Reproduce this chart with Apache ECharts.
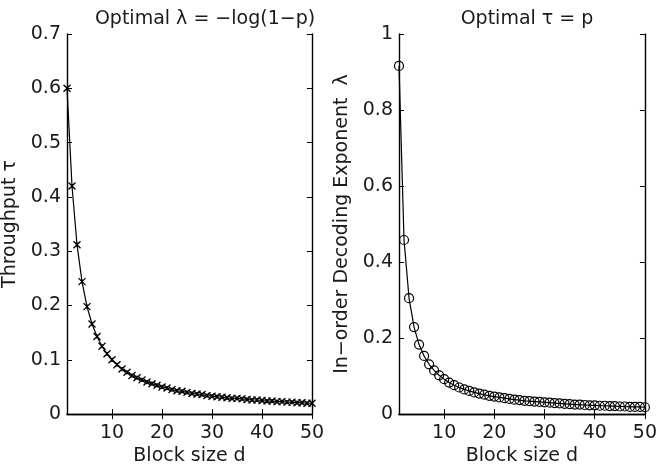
<!DOCTYPE html>
<html>
<head>
<meta charset="utf-8">
<script src="https://cdn.jsdelivr.net/npm/echarts@6/dist/echarts.min.js"></script>
<style>html,body{margin:0;padding:0;background:#fff}#c{width:660px;height:471px}</style>
</head>
<body>
<div id="c"></div>
<script>
var blockSize = [];
for (var i = 1; i <= 50; i++) blockSize.push(i);

var throughput = [0.600,0.420,0.312,0.244,0.198,0.166,0.143,0.125,0.111,0.100,
  0.091,0.083,0.077,0.071,0.067,0.063,0.059,0.056,0.053,0.050,
  0.048,0.045,0.043,0.042,0.040,0.038,0.037,0.036,0.034,0.033,
  0.032,0.031,0.030,0.029,0.029,0.028,0.027,0.026,0.026,0.025,
  0.024,0.024,0.023,0.023,0.022,0.022,0.021,0.021,0.020,0.020];

var exponent = [0.916,0.458,0.305,0.229,0.183,0.153,0.131,0.115,0.102,0.092,
  0.083,0.076,0.070,0.065,0.061,0.057,0.054,0.051,0.048,0.046,
  0.044,0.042,0.040,0.038,0.037,0.035,0.034,0.033,0.032,0.031,
  0.030,0.029,0.028,0.027,0.026,0.025,0.025,0.024,0.023,0.023,
  0.022,0.022,0.021,0.021,0.020,0.020,0.019,0.019,0.019,0.018];

var xTicks = [10, 20, 30, 40, 50];
var leftTitle = 'Optimal \u03bb = \u2212log(1\u2212p)';
var rightTitle = 'Optimal \u03c4 = p';
var xName = 'Block size d';
var leftYName = 'Throughput \u03c4';
var rightYName = 'In\u2212order Decoding Exponent  \u03bb';

var FONT = 'DejaVu Sans';
var FS = 19;
var TXT = '#1a1a1a';
var lineStyle = {color: '#000', width: 1.4};

function pair(v) { return blockSize.map(function (d, i) { return [d, v[i]]; }); }

function xAxisMain(gi) {
  return {
    gridIndex: gi, type: 'value', min: 1, max: 50, position: 'bottom',
    name: xName, nameLocation: 'middle', nameGap: 31,
    nameTextStyle: {fontFamily: FONT, fontSize: FS, color: TXT},
    axisLine: {show: true, lineStyle: lineStyle},
    axisTick: {show: true, inside: true, length: 5, lineStyle: {color: '#000', width: 1}, customValues: xTicks},
    axisLabel: {show: true, margin: 9, fontFamily: FONT, fontSize: FS, color: TXT, customValues: xTicks},
    splitLine: {show: false}
  };
}
function xAxisTop(gi) {
  return {
    gridIndex: gi, type: 'value', min: 1, max: 50, position: 'top',
    axisLine: {show: true, lineStyle: lineStyle},
    axisTick: {show: true, inside: true, length: 5, lineStyle: {color: '#000', width: 1}, customValues: xTicks},
    axisLabel: {show: false, customValues: xTicks},
    splitLine: {show: false}
  };
}
function yAxisMain(gi, max, interval, name, fmt) {
  return {
    gridIndex: gi, type: 'value', min: 0, max: max, interval: interval, position: 'left',
    name: name, nameLocation: 'middle', nameRotate: 90, nameGap: 47,
    nameTextStyle: {fontFamily: FONT, fontSize: FS, color: TXT},
    axisLine: {show: true, lineStyle: lineStyle},
    axisTick: {show: true, inside: true, length: 5, lineStyle: {color: '#000', width: 1}},
    axisLabel: {show: true, margin: 6, fontFamily: FONT, fontSize: FS, color: TXT, formatter: fmt},
    splitLine: {show: false}
  };
}
function yAxisRight(gi, max, interval) {
  return {
    gridIndex: gi, type: 'value', min: 0, max: max, interval: interval, position: 'right',
    axisLine: {show: true, lineStyle: lineStyle},
    axisTick: {show: true, inside: true, length: 5, lineStyle: {color: '#000', width: 1}},
    axisLabel: {show: false},
    splitLine: {show: false}
  };
}
function fmt(v) { return String(Math.round(v * 10) / 10); }

var chart = echarts.init(document.getElementById('c'), null, {renderer: 'canvas'});
chart.setOption({
  backgroundColor: '#fff',
  animation: false,
  title: [
    {text: leftTitle, left: 200, top: 5, textAlign: 'center',
     textStyle: {fontFamily: FONT, fontSize: FS, fontWeight: 'normal', color: TXT}},
    {text: rightTitle, left: 522, top: 5, textAlign: 'center',
     textStyle: {fontFamily: FONT, fontSize: FS, fontWeight: 'normal', color: TXT}}
  ],
  grid: [
    {left: 66, right: 348, top: 34, bottom: 55},
    {left: 399, right: 14, top: 34, bottom: 55}
  ],
  xAxis: [xAxisMain(0), xAxisTop(0), xAxisMain(1), xAxisTop(1)],
  yAxis: [yAxisMain(0, 0.7, 0.1, leftYName, fmt), yAxisRight(0, 0.7, 0.1),
          yAxisMain(1, 1, 0.2, rightYName, fmt), yAxisRight(1, 1, 0.2)],
  series: [
    {type: 'line', xAxisIndex: 0, yAxisIndex: 0, data: pair(throughput),
     lineStyle: {color: '#000', width: 1.2},
     symbol: 'path://M0,0L10,10M10,0L0,10M5,2L5,8', symbolSize: 7,
     itemStyle: {color: 'none', borderColor: '#000', borderWidth: 1.3}},
    {type: 'line', xAxisIndex: 2, yAxisIndex: 2, data: pair(exponent),
     lineStyle: {color: '#000', width: 1.2},
     symbol: 'circle', symbolSize: 9,
     itemStyle: {color: 'none', borderColor: '#000', borderWidth: 1.2}}
  ]
});
</script>
</body>
</html>
